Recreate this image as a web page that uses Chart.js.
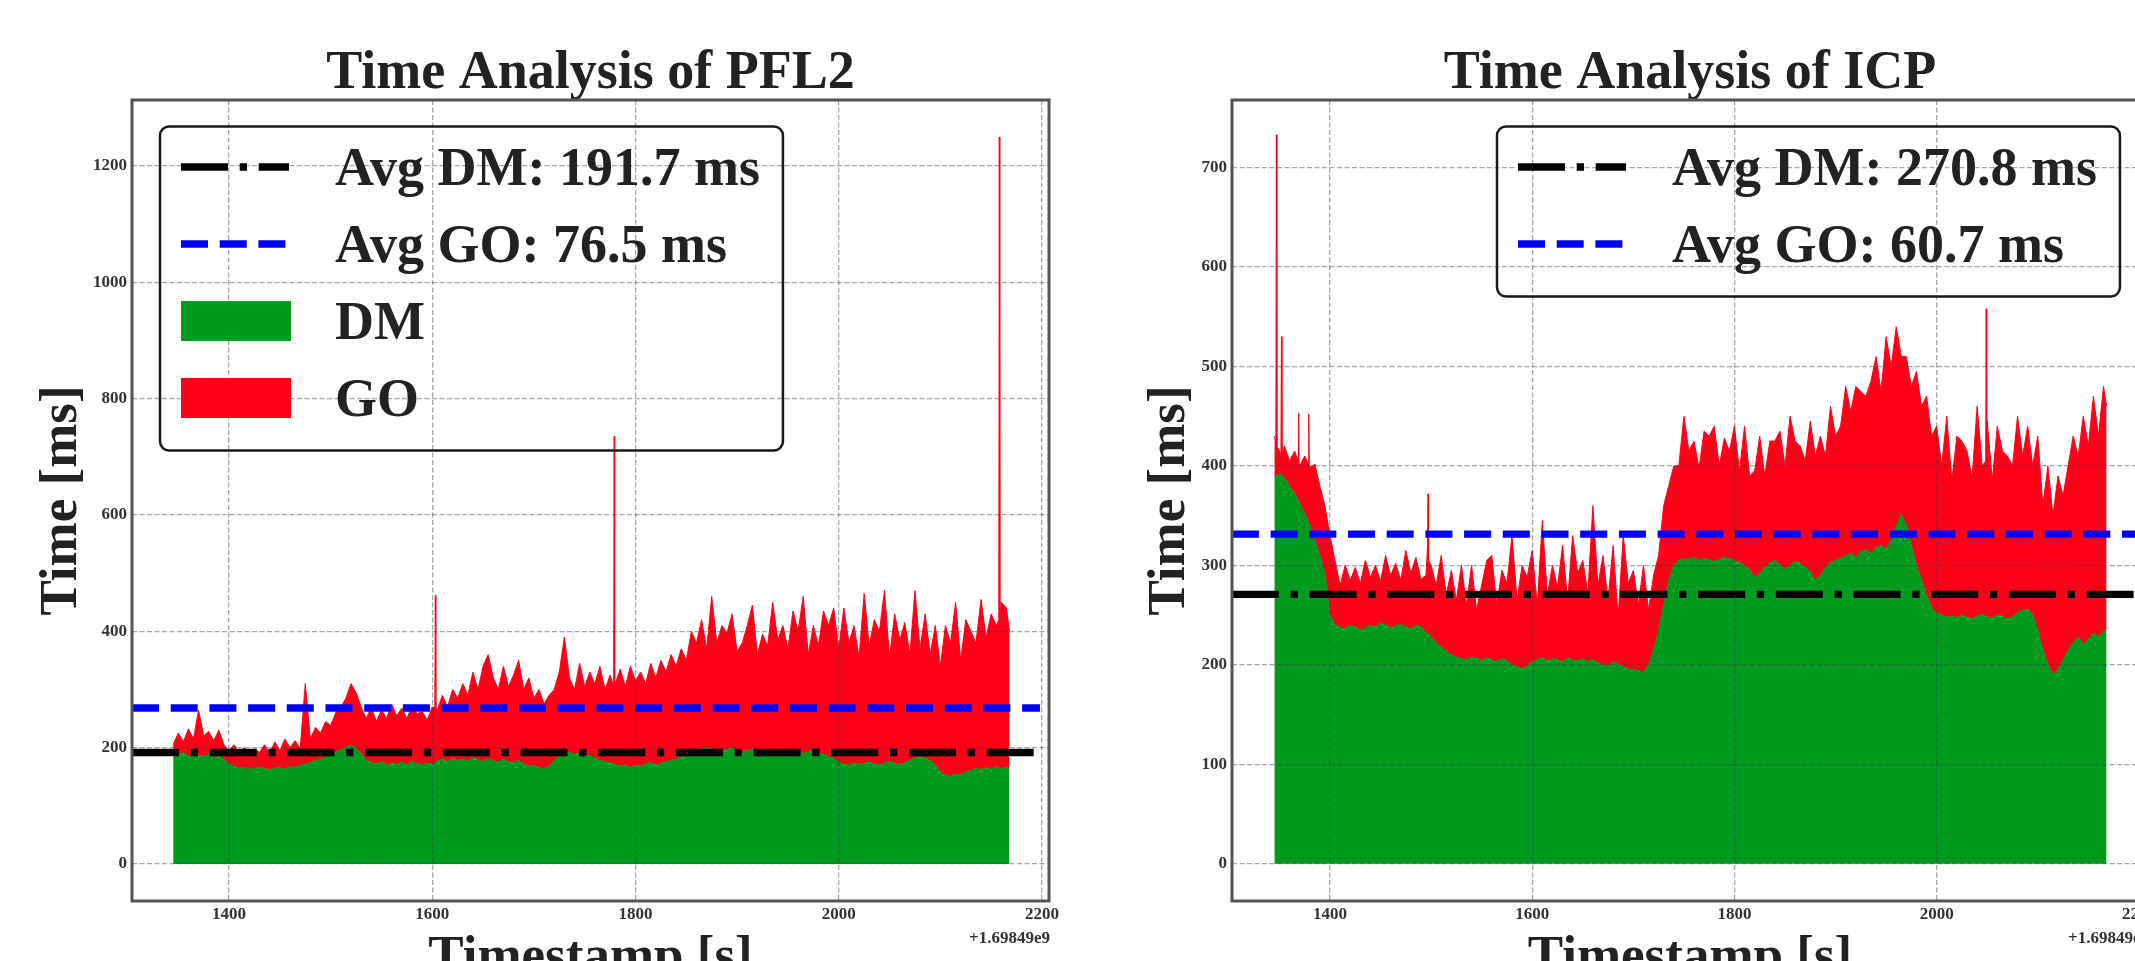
<!DOCTYPE html>
<html><head><meta charset="utf-8">
<script src="https://cdn.jsdelivr.net/npm/chart.js@4.4.1/dist/chart.umd.min.js"></script>
<style>
html,body{margin:0;padding:0;background:#fff;overflow:hidden;width:2135px;height:961px;}
canvas{position:absolute;top:0;}
#c1{left:0;width:1109px;height:1000px;}
#c2{left:1100px;width:1108px;height:1000px;}
</style></head><body>
<canvas id="c1" width="1109" height="1000"></canvas>
<canvas id="c2" width="1108" height="1000"></canvas>
<script>
// ---------- tick labels ----------
const xTicks = [1400, 1600, 1800, 2000, 2200];
const pflYTicks = [0, 200, 400, 600, 800, 1000, 1200];
const icpYTicks = [0, 100, 200, 300, 400, 500, 600, 700];
const timeOffsetLabel = '+1.69849e9';

// ---------- averages ----------
const pflAvgDM = 191.7, pflAvgGO = 76.5;
const icpAvgDM = 270.8, icpAvgGO = 60.7;
const pflAvgSpan = [1304.5, 2198];
const icpAvgSpan = [1303, 2198];

// ---------- PFL2 series (timestamp - 1.69849e9 [s], DM [ms], GO [ms]) ----------
const pflTime = [
1345,1350,1355,1360,1365,1370,1375,1380,1385,1390,1395,
1400,1405,1410,1415,1420,1425,1430,1435,1440,1445,1450,1455,1460,1465,1470,1475,
1480,1485,1490,1495,1500,1505,1510,1515,
1520,1525,1530,
1535,1540,1545,1550,1555,1560,1565,1570,1575,1580,1585,1590,1595,1600,
1602.5,1603,1603.5,
1605,1610,1615,1620,1625,1630,1635,1640,1645,1650,1655,1660,1665,1670,1675,1680,1685,1690,1695,1700,
1705,1710,1715,
1720,1725,1730,1735,1740,1745,1750,1755,1760,1765,1770,1775,
1778.5,1779,1779.5,
1780,1785,1790,1795,1800,1805,1810,1815,1820,1825,1830,1835,1840,1845,
1850,1855,1860,1865,1870,1875,1880,1885,1890,1895,1900,1905,1910,1915,1920,1925,1930,1935,1940,1945,1950,1955,1960,1965,1970,1975,1980,1985,1990,1995,
2000,2005,2010,2015,2020,2025,2030,2035,2040,2045,2050,2055,2060,2065,2070,2075,
2080,2085,2090,2095,
2100,2105,2110,2115,2120,2125,2130,
2135,2140,2145,2150,2155,
2157.5,2158,2158.5,
2160,2165,2168];
const pflDM = [
190,188,192,185,190,187,185,188,183,186,180,
172,168,165,166,163,165,167,164,162,165,166,163,168,165,170,172,
175,178,180,183,188,192,196,200,
205,198,190,
178,175,172,176,170,174,172,175,171,176,173,170,174,172,
172,173,174,
178,180,176,182,178,180,177,183,179,176,181,178,175,180,176,174,178,172,168,170,
165,164,168,
178,185,190,192,188,193,190,186,182,178,176,174,
173,173,172,
172,168,170,166,170,168,172,175,170,173,176,178,180,184,
188,192,195,198,200,198,196,194,197,199,196,193,195,198,196,192,194,197,195,193,196,198,194,190,193,196,192,188,185,182,
175,172,170,174,171,173,176,172,170,174,177,173,171,175,178,182,
185,182,178,170,
158,152,150,155,153,158,160,
165,162,166,163,167,
166,166,165,
164,166,165];
const pflGO = [
15,37,18,47,25,78,35,40,29,44,25,
23,37,25,34,25,33,25,41,28,45,29,52,32,47,28,138,
40,57,45,62,50,68,74,85,
105,97,80,
72,95,73,89,80,101,83,93,79,96,85,92,74,98,
96,289,92,
87,110,94,118,107,130,113,147,121,164,179,142,125,160,129,151,172,128,152,115,
135,111,122,
122,145,200,128,112,152,115,144,128,162,124,151,
132,562,128,
138,167,135,174,145,162,138,170,150,177,154,182,160,186,
162,208,185,222,170,262,184,216,200,231,169,187,215,247,164,203,181,253,190,217,174,237,206,270,167,214,183,247,225,258,
195,268,210,236,184,292,199,248,230,296,178,257,214,240,182,288,
185,248,182,240,
182,258,230,295,197,262,240,
215,293,224,267,243,
254,1084,265,
286,274,235];

// ---------- ICP series ----------
const icpTime = [
1345,1346.5,1347,1347.5,1350,1351.5,1352,1352.5,1355,1360,1365,1368.5,1369,1369.5,1370,1375,1378.5,1379,1379.5,1380,1385,1390,1395,
1400,1405,1410,1415,1420,1425,1430,1435,1440,1445,1450,1455,1460,1465,1470,1475,1480,1485,1490,1495,
1496.5,1497,1497.5,
1500,1505,1510,1515,1520,1525,1530,
1535,1540,1545,1550,1555,1560,1565,1570,1575,1580,1585,1590,1595,1600,1605,1610,1615,1620,1625,1630,1635,1640,1645,1650,1655,1660,1665,1670,1675,1680,1685,1690,1695,1700,
1705,1710,1715,1720,1725,1730,1735,1740,
1745,1750,1755,1760,1765,1770,1775,1780,1785,1790,1795,1800,1805,1810,1815,
1820,1825,1830,1835,1840,1845,1850,1855,1860,1865,1870,1875,1880,1885,1890,1895,1900,
1905,1910,1915,1920,1925,1930,1935,1940,1945,1950,1955,1960,1965,
1970,1975,1980,1985,1990,1995,2000,
2005,2010,2015,2020,2025,2030,2035,2040,2045,
2048.5,2049,2049.5,
2050,2055,2060,2065,2070,2075,2080,
2085,2090,2095,2100,
2105,2110,2115,2120,2125,
2130,2135,2140,2145,2150,2155,2160,2165,2168];
const icpDM = [
390,390,390,390,392,392,392,391,388,380,372,365,365,364,362,352,343,343,342,340,325,310,292,
250,240,238,236,240,238,235,237,240,238,242,240,237,239,241,238,236,240,238,232,
232,232,231,
228,222,218,214,210,208,206,
205,208,206,204,207,205,203,206,204,200,198,196,199,203,205,207,204,206,205,203,207,205,204,206,203,205,202,200,199,203,201,198,196,195,
194,193,200,215,235,260,285,300,
305,307,306,308,305,307,306,304,306,308,307,305,303,300,295,
288,292,298,302,305,300,296,300,304,302,298,294,285,290,298,303,305,
307,310,312,308,314,316,312,318,320,316,325,340,352,
340,320,300,285,270,258,252,
250,248,249,247,250,248,246,249,251,
249,249,249,
248,247,250,249,246,248,252,
255,256,250,235,
215,200,190,195,205,
215,222,228,220,226,232,228,234,235];
const icpGO = [
40,35,343,30,23,20,138,19,32,25,43,40,88,38,38,58,59,109,58,58,77,70,68,
80,65,42,64,45,60,47,68,48,62,42,70,53,63,44,77,56,68,48,58,
88,140,74,
72,58,92,56,85,57,94,
55,92,49,76,98,105,57,89,78,130,67,104,89,112,55,138,66,94,73,117,58,125,88,99,69,155,78,110,66,117,47,132,86,100,
66,107,55,75,75,100,95,100,
95,143,109,117,93,128,124,136,94,120,108,135,92,140,95,
107,138,92,123,120,135,104,150,121,118,107,151,125,140,112,157,125,
133,170,143,172,161,154,173,192,155,214,175,200,158,
170,160,195,175,200,172,188,
150,202,136,183,175,167,142,211,149,
156,309,151,
197,138,190,166,164,152,198,
155,184,150,195,
145,200,160,195,165,
185,208,182,230,194,238,202,246,225];

// ---------- styling ----------
const FONT = '"Liberation Serif", "Times New Roman", serif';
const TEXT = '#222222';
const GREEN = '#009a1f';
const RED = '#ff0018';
Chart.defaults.font.family = FONT;

const decorPlugin = {
  id: 'decor',
  afterDraw(chart, args, o) {
    const {ctx, chartArea: a} = chart;
    ctx.save();
    // title
    ctx.fillStyle = TEXT; ctx.textAlign = 'center'; ctx.textBaseline = 'alphabetic';
    ctx.font = 'bold 54px ' + FONT;
    ctx.fillText(o.title, (a.left + a.right) / 2, a.top - 12);
    // offset text
    ctx.font = 'bold 17px ' + FONT; ctx.textAlign = 'right'; ctx.fillStyle = '#333';
    ctx.fillText(timeOffsetLabel, a.right + 1, a.bottom + 42);
    // legend
    const L = o.legend;
    const ds = L.items.map(i => chart.data.datasets[i]);
    ctx.font = 'bold 54px ' + FONT;
    const tw = Math.max(...ds.map(d => ctx.measureText(d.label).width));
    const x0 = a.left + L.dx, y0 = a.top + 26.5;
    const w = 175 + tw + 23;
    const h = 40.5 + 77 * (ds.length - 1) + 52.5;
    ds.forEach((d, k) => {
      const cy = y0 + 40.5 + k * 77;
      if (d.fill === false) {
        ctx.save();
        ctx.strokeStyle = d.borderColor; ctx.lineWidth = d.borderWidth;
        ctx.setLineDash(d.borderDash || []); ctx.lineCap = 'butt';
        ctx.beginPath(); ctx.moveTo(x0 + 21, cy); ctx.lineTo(x0 + 129, cy); ctx.stroke();
        ctx.restore();
      } else {
        ctx.fillStyle = d.backgroundColor;
        ctx.fillRect(x0 + 21, cy - 20, 110, 40);
      }
      ctx.fillStyle = TEXT; ctx.textAlign = 'left'; ctx.textBaseline = 'alphabetic';
      ctx.fillText(d.label, x0 + 175, cy + 18);
    });
    ctx.setLineDash([]);
    ctx.strokeStyle = '#1a1a1a'; ctx.lineWidth = 2.5;
    ctx.beginPath(); ctx.roundRect(x0, y0, w, h, 9); ctx.stroke();
    // frame
    ctx.strokeStyle = '#555'; ctx.lineWidth = 3;
    ctx.strokeRect(a.left, a.top, a.right - a.left, a.bottom - a.top);
    ctx.restore();
  }
};

function makeChart(id, c) {
  if (c.t.length !== c.dm.length || c.t.length !== c.go.length) {
    throw new Error(id + ' length mismatch ' + c.t.length + ' ' + c.dm.length + ' ' + c.go.length);
  }
  const dmPts = c.t.map((t, i) => ({x: t, y: c.dm[i]}));
  const goPts = c.t.map((t, i) => ({x: t, y: c.dm[i] + c.go[i]}));
  const gridOpts = {color: 'rgba(60,60,60,0.45)', lineWidth: 1.3, drawTicks: false, z: 1};
  return new Chart(document.getElementById(id), {
    type: 'line',
    data: {datasets: [
      {label: 'Avg DM: ' + c.avgDM.toFixed(1) + ' ms', data: c.span.map(x => ({x, y: c.avgDM})),
       borderColor: '#000000', borderWidth: 7.3, borderDash: [47, 11.7, 7.3, 11.7], borderCapStyle: 'butt',
       fill: false, pointRadius: 0},
      {label: 'Avg GO: ' + c.avgGO.toFixed(1) + ' ms', data: c.span.map(x => ({x, y: c.avgDM + c.avgGO})),
       borderColor: '#0000ff', borderWidth: 7.3, borderDash: [27, 11.7], borderCapStyle: 'butt',
       fill: false, pointRadius: 0},
      {label: 'DM', data: dmPts, backgroundColor: GREEN, borderColor: GREEN, borderWidth: 1,
       fill: 'origin', pointRadius: 0, tension: 0},
      {label: 'GO', data: goPts, backgroundColor: RED, borderColor: RED, borderWidth: 1,
       fill: '-1', pointRadius: 0, tension: 0}
    ]},
    options: {
      responsive: false, animation: false, devicePixelRatio: 1,
      layout: {padding: {top: 100, right: 60, left: 0, bottom: 0}},
      plugins: {legend: {display: false}, tooltip: {enabled: false},
        decor: {title: c.title, legend: {items: c.legendItems, dx: c.legendDx}}},
      scales: {
        x: {type: 'linear', min: c.xMin, max: c.xMax,
          afterFit: s => { s.height = 99; },
          afterBuildTicks: s => { s.ticks = xTicks.map(v => ({value: v})); },
          ticks: {callback: v => String(v), color: '#333', padding: 3, maxRotation: 0,
                  font: {size: 17, weight: 'bold'}},
          grid: gridOpts, border: {display: false, dash: [5, 2.5]},
          title: {display: true, text: 'Timestamp [s]', color: TEXT,
                  font: {size: 53, weight: 'bold', lineHeight: 1}, padding: {top: 0, bottom: 15}}},
        y: {type: 'linear', min: c.yMin, max: c.yMax,
          afterFit: s => { s.width = 132; },
          afterBuildTicks: s => { s.ticks = c.yTicks.map(v => ({value: v})); },
          ticks: {callback: v => String(v), color: '#333', padding: 5,
                  font: {size: 17, weight: 'bold'}},
          grid: gridOpts, border: {display: false, dash: [5, 2.5]},
          title: {display: true, text: 'Time [ms]', color: TEXT,
                  font: {size: 53, weight: 'bold', lineHeight: 1}, padding: {top: c.yTitlePad, bottom: 0}}}
      }
    },
    plugins: [decorPlugin]
  });
}

makeChart('c1', {title: 'Time Analysis of PFL2', t: pflTime, dm: pflDM, go: pflGO,
  avgDM: pflAvgDM, avgGO: pflAvgGO, span: pflAvgSpan, yTicks: pflYTicks,
  xMin: 1304.5, xMax: 2206.9, yMin: -63.6, yMax: 1313.5, yTitlePad: 36,
  legendItems: [0, 1, 2, 3], legendDx: 28});
makeChart('c2', {title: 'Time Analysis of ICP', t: icpTime, dm: icpDM, go: icpGO,
  avgDM: icpAvgDM, avgGO: icpAvgGO, span: icpAvgSpan, yTicks: icpYTicks,
  xMin: 1303.1, xMax: 2209, yMin: -37.5, yMax: 768, yTitlePad: 44,
  legendItems: [0, 1], legendDx: 265});
</script>
</body></html>
